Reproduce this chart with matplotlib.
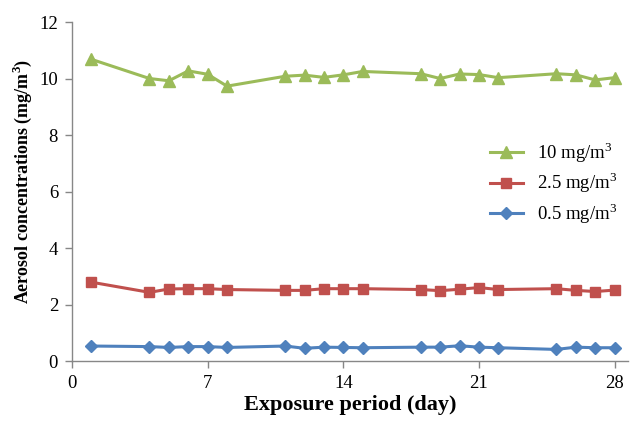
import matplotlib
matplotlib.use("Agg")
import matplotlib.pyplot as plt

days = [1, 4, 5, 6, 7, 8, 11, 12, 13, 14, 15, 18, 19, 20, 21, 22, 25, 26, 27, 28]
conc_10 = [10.68, 10.0, 9.92, 10.27, 10.15, 9.73, 10.08, 10.12, 10.04, 10.13, 10.25,
           10.17, 10.0, 10.16, 10.14, 10.03, 10.17, 10.13, 9.95, 10.03]
conc_25 = [2.79, 2.43, 2.55, 2.56, 2.56, 2.53, 2.5, 2.5, 2.56, 2.56, 2.56,
           2.53, 2.49, 2.54, 2.6, 2.53, 2.56, 2.5, 2.46, 2.51]
conc_05 = [0.53, 0.51, 0.48, 0.51, 0.51, 0.48, 0.53, 0.45, 0.49, 0.48, 0.47,
           0.49, 0.49, 0.54, 0.49, 0.47, 0.41, 0.49, 0.47, 0.47]
labels = ["10 mg/m$^3$", "2.5 mg/m$^3$", "0.5 mg/m$^3$"]
xticks = [0, 7, 14, 21, 28]
yticks = [0, 2, 4, 6, 8, 10, 12]

plt.rcParams['font.family'] = ['Liberation Serif', 'DejaVu Serif']
plt.rcParams['mathtext.fontset'] = 'custom'
plt.rcParams['mathtext.rm'] = 'Liberation Serif'
plt.rcParams['mathtext.bf'] = 'Liberation Serif:bold'

fig = plt.figure(figsize=(6.32, 4.21), dpi=100)
ax = fig.add_axes([0.1139, 0.1425, 0.88, 0.8052])

green, red, blue = '#9BBB59', '#C0504D', '#4F81BD'
ax.plot(days, conc_10, color=green, marker='^', markersize=8, linewidth=2.2, label=labels[0])
ax.plot(days, conc_25, color=red, marker='s', markersize=7, linewidth=2.2, label=labels[1])
ax.plot(days, conc_05, color=blue, marker='D', markersize=6, linewidth=2.2, label=labels[2])

ax.set_xlim(0, 28.7)
ax.set_ylim(0, 12)
ax.set_xticks(xticks)
ax.set_yticks(yticks)
for s in ['top', 'right']:
    ax.spines[s].set_visible(False)
for s in ['left', 'bottom']:
    ax.spines[s].set_color('#878787')
    ax.spines[s].set_linewidth(1.0)
ax.tick_params(direction='out', length=5, width=1.0, color='#878787', labelsize=13.5, pad=5)

ax.set_xlabel('Exposure period (day)', fontsize=16, fontweight='bold')
ax.xaxis.set_label_coords(0.5, -0.1)
ax.set_ylabel('Aerosol concentrations (mg/m$^\\mathbf{3}$)', fontsize=13, fontweight='bold')
ax.yaxis.set_label_coords(-0.069, 0.53)

leg = ax.legend(loc='center left', bbox_to_anchor=(0.721, 0.525), frameon=False, fontsize=13.5,
                handlelength=1.75, labelspacing=0.3, handletextpad=0.75)

fig.savefig('out.png', dpi=100)
